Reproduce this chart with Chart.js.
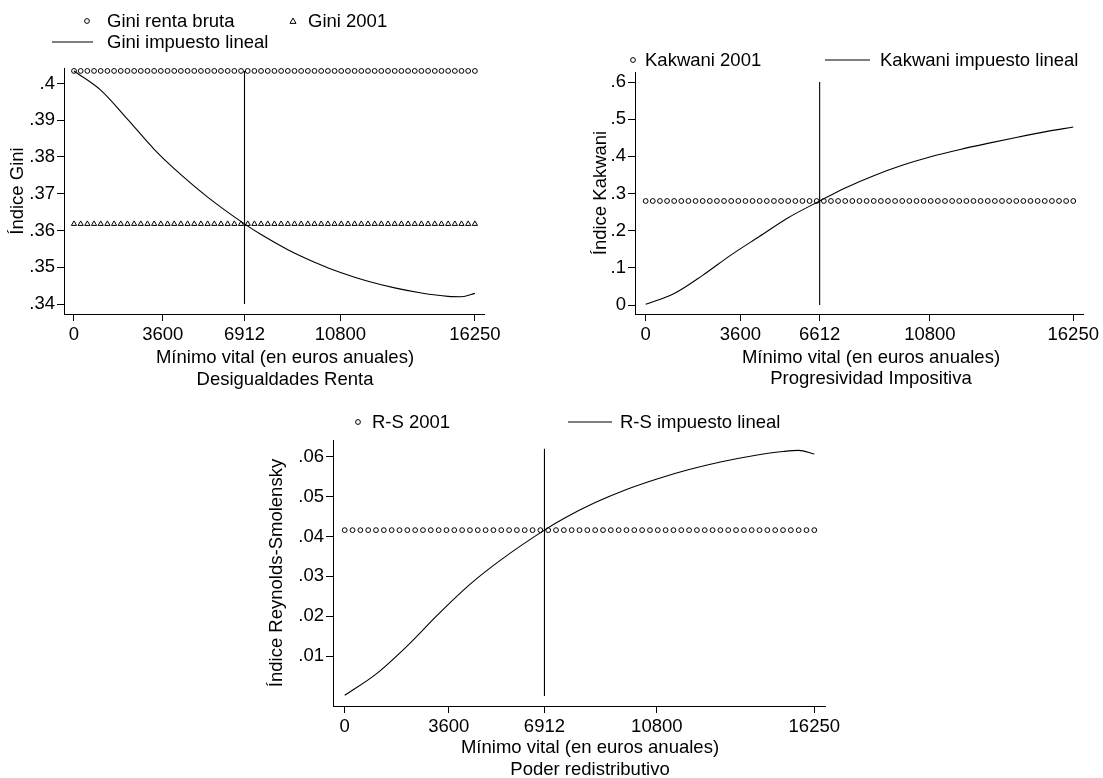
<!DOCTYPE html>
<html><head><meta charset="utf-8">
<script src="https://cdn.jsdelivr.net/npm/chart.js@4/dist/chart.umd.min.js"></script>
<style>
html,body{margin:0;padding:0;background:#fff;}
#wrap{position:relative;width:1103px;height:778px;overflow:hidden;}
canvas{position:absolute;}
</style></head><body>
<div id="wrap">
<canvas id="c1" width="551" height="390" style="left:0;top:0"></canvas>
<canvas id="c2" width="552" height="390" style="left:551px;top:0"></canvas>
<canvas id="c3" width="620" height="388" style="left:240px;top:390px"></canvas>
</div>
<script>
// ---------- DATA ----------
const xTicks1 = [0, 3600, 6912, 10800, 16250];
const xTicks2 = [0, 3600, 6612, 10800, 16250];
const xTicks3 = [0, 3600, 6912, 10800, 16250];
const yTicks1 = [0.34, 0.35, 0.36, 0.37, 0.38, 0.39, 0.40];
const yTicks2 = [0, 0.1, 0.2, 0.3, 0.4, 0.5, 0.6];
const yTicks3 = [0.01, 0.02, 0.03, 0.04, 0.05, 0.06];

// marker positions (minimo vital grid)
const markerX = [0, 271, 542, 813, 1083, 1354, 1625, 1896, 2167, 2438, 2708, 2979, 3250, 3521, 3792, 4063, 4333, 4604, 4875, 5146, 5417, 5688, 5958, 6229, 6500, 6771, 7042, 7313, 7583, 7854, 8125, 8396, 8667, 8938, 9208, 9479, 9750, 10021, 10292, 10563, 10833, 11104, 11375, 11646, 11917, 12188, 12458, 12729, 13000, 13271, 13542, 13813, 14083, 14354, 14625, 14896, 15167, 15438, 15708, 15979, 16250];

// reference levels
const giniRentaBruta = 0.4034;
const gini2001 = 0.3618;
const kakwani2001 = 0.28;
const rs2001 = 0.0416;

// Gini impuesto lineal
const giniX = [0, 1083, 2167, 3250, 4333, 5417, 6912, 7583, 8667, 9750, 10833, 11917, 13000, 14083, 15167, 15708, 16250];
const giniY = [0.4034, 0.3982, 0.3903, 0.3821, 0.3752, 0.3691, 0.3618, 0.3589, 0.3548, 0.3514, 0.3485, 0.3462, 0.3444, 0.3430, 0.3421, 0.3420, 0.3429];

// Kakwani impuesto lineal
const kakX = [0, 1083, 2167, 3250, 4333, 5417, 6612, 7583, 8667, 9750, 10833, 11917, 13000, 14083, 15167, 16250];
const kakY = [0.002, 0.031, 0.080, 0.135, 0.185, 0.235, 0.280, 0.315, 0.348, 0.376, 0.399, 0.418, 0.435, 0.451, 0.466, 0.479];

// R-S impuesto lineal
const rsX = [0, 1083, 2167, 3250, 4333, 5417, 6912, 7583, 8667, 9750, 10833, 11917, 13000, 14083, 15167, 15708, 16250];
const rsY = [0.0002, 0.0055, 0.0126, 0.0206, 0.0280, 0.0342, 0.0416, 0.0445, 0.0485, 0.0518, 0.0545, 0.0568, 0.0587, 0.0602, 0.0613, 0.0616, 0.0607];

// vertical reference lines: [x, yFrom, yTo]
const vline1 = [6912, 0.34, 0.4034];
const vline2 = [6612, 0, 0.6];
const vline3 = [6912, 0, 0.062];

// ---------- STYLE / HELPERS ----------
const FONT = '"Liberation Sans", Arial, sans-serif';
const FS = 18.5;
const INK = '#000';

function fmtY(v) {
  const s = (+v.toFixed(4)).toString();
  return s.replace(/^0\./, '.').replace(/^-0\./, '-.');
}
function pts(xs, ys) { return xs.map((x, i) => ({x: x, y: ys[i]})); }
function flat(xs, level) { return xs.map(x => ({x: x, y: level})); }
function vpts(v) { return [{x: v[0], y: v[1]}, {x: v[0], y: v[2]}]; }

function drawCircle(ctx, x, y) {
  ctx.beginPath(); ctx.arc(x, y, 2.4, 0, Math.PI * 2); ctx.lineWidth = 1; ctx.strokeStyle = INK; ctx.stroke();
}
function drawTri(ctx, x, y) {
  ctx.beginPath(); ctx.moveTo(x, y - 3); ctx.lineTo(x + 3, y + 2.4); ctx.lineTo(x - 3, y + 2.4); ctx.closePath();
  ctx.lineWidth = 1; ctx.strokeStyle = INK; ctx.stroke();
}

function textPlugin(spec, offX, offY) {
  return {
    id: 'texts',
    afterDraw(chart) {
      const ctx = chart.ctx;
      ctx.save();
      ctx.fillStyle = INK;
      ctx.font = FS + 'px ' + FONT;
      ctx.textBaseline = 'middle';
      spec.legend.forEach(it => {
        const y = it.y - offY;
        if (it.key === 'circle') drawCircle(ctx, it.kx - offX, y);
        else if (it.key === 'tri') drawTri(ctx, it.kx - offX, y);
        else if (it.key === 'line') {
          ctx.beginPath(); ctx.moveTo(it.kx - offX, y); ctx.lineTo(it.kx2 - offX, y);
          ctx.lineWidth = 1.1; ctx.strokeStyle = INK; ctx.stroke();
        }
        ctx.textAlign = 'left';
        ctx.fillText(it.text, it.tx - offX, y + 1);
      });
      ctx.textAlign = 'center';
      spec.xTitles.forEach(t => ctx.fillText(t.text, t.x - offX, t.y - offY));
      ctx.translate(spec.yTitle.x - offX, spec.yTitle.y - offY);
      ctx.rotate(-Math.PI / 2);
      ctx.fillText(spec.yTitle.text, 0, 0);
      ctx.restore();
    }
  };
}

function makeChart(id, cfg) {
  const tickFont = {family: FONT, size: FS};
  return new Chart(document.getElementById(id), {
    type: 'scatter',
    data: {datasets: cfg.datasets},
    options: {
      responsive: false, animation: false, devicePixelRatio: 1,
      layout: {padding: {left: 0, top: cfg.padTop, right: cfg.padRight, bottom: 0}},
      plugins: {legend: {display: false}, tooltip: {enabled: false}},
      elements: {line: {borderWidth: 1.1}},
      scales: {
        x: {
          type: 'linear', min: -405, max: 16620,
          afterBuildTicks: s => { s.ticks = cfg.xTicks.map(v => ({value: v})); },
          afterFit: s => { s.height = cfg.xH; },
          ticks: {callback: v => String(v), maxRotation: 0, autoSkip: false, padding: 3, color: INK, font: tickFont},
          grid: {display: true, drawOnChartArea: false, drawTicks: true, tickLength: 7, color: INK, lineWidth: 1},
          border: {display: true, color: INK, width: 1}
        },
        y: {
          type: 'linear', min: cfg.yMin, max: cfg.yMax,
          afterBuildTicks: s => { s.ticks = cfg.yTicks.map(v => ({value: v})); },
          afterFit: s => { s.width = cfg.yW; },
          ticks: {callback: v => fmtY(v), autoSkip: false, padding: 2, color: INK, font: tickFont},
          grid: {display: true, drawOnChartArea: false, drawTicks: true, tickLength: 7, color: INK, lineWidth: 1},
          border: {display: true, color: INK, width: 1}
        }
      }
    },
    plugins: [cfg.plugin]
  });
}

const lineDs = (data) => ({data: data, showLine: true, borderColor: INK, borderWidth: 1.1, pointRadius: 0, cubicInterpolationMode: 'monotone', clip: false});
const vDs = (data) => ({data: data, showLine: true, borderColor: INK, borderWidth: 1.1, pointRadius: 0, clip: false});
const circDs = (data) => ({data: data, showLine: false, pointStyle: 'circle', pointRadius: 2.4, borderWidth: 1, borderColor: INK, backgroundColor: 'rgba(0,0,0,0)', clip: false});
const triDs = (data) => ({data: data, showLine: false, pointStyle: 'triangle', pointRadius: 3, borderWidth: 1, borderColor: INK, backgroundColor: 'rgba(0,0,0,0)', clip: false});

// ---------- CHART 1 ----------
makeChart('c1', {
  xTicks: xTicks1, yTicks: yTicks1, yMin: 0.3373, yMax: 0.4042,
  yW: 64, xH: 76, padTop: 68, padRight: 67,
  datasets: [
    lineDs(pts(giniX, giniY)),
    circDs(flat(markerX, giniRentaBruta)),
    triDs(flat(markerX, gini2001)),
    vDs(vpts(vline1))
  ],
  plugin: textPlugin({
    legend: [
      {key: 'circle', kx: 87, y: 21, tx: 107, text: 'Gini renta bruta'},
      {key: 'tri', kx: 293, y: 21, tx: 308, text: 'Gini 2001'},
      {key: 'line', kx: 52, kx2: 93, y: 42, tx: 107, text: 'Gini impuesto lineal'}
    ],
    xTitles: [
      {text: 'Mínimo vital (en euros anuales)', x: 285, y: 358},
      {text: 'Desigualdades Renta', x: 285, y: 380}
    ],
    yTitle: {text: 'Índice Gini', x: 18, y: 191}
  }, 0, 0)
});

// ---------- CHART 2 ----------
makeChart('c2', {
  xTicks: xTicks2, yTicks: yTicks2, yMin: -0.024, yMax: 0.627,
  yW: 84, xH: 76, padTop: 72, padRight: 20,
  datasets: [
    lineDs(pts(kakX, kakY)),
    circDs(flat(markerX, kakwani2001)),
    vDs(vpts(vline2))
  ],
  plugin: textPlugin({
    legend: [
      {key: 'circle', kx: 633, y: 60, tx: 645, text: 'Kakwani 2001'},
      {key: 'line', kx: 825, kx2: 870, y: 60, tx: 880, text: 'Kakwani impuesto lineal'}
    ],
    xTitles: [
      {text: 'Mínimo vital (en euros anuales)', x: 871, y: 358},
      {text: 'Progresividad Impositiva', x: 871, y: 379}
    ],
    yTitle: {text: 'Índice Kakwani', x: 601, y: 193}
  }, 551, 0)
});

// ---------- CHART 3 ----------
makeChart('c3', {
  xTicks: xTicks3, yTicks: yTicks3, yMin: -0.0025, yMax: 0.0642,
  yW: 93, xH: 72, padTop: 50, padRight: 35,
  datasets: [
    lineDs(pts(rsX, rsY)),
    circDs(flat(markerX, rs2001)),
    vDs(vpts(vline3))
  ],
  plugin: textPlugin({
    legend: [
      {key: 'circle', kx: 358, y: 422, tx: 372, text: 'R-S 2001'},
      {key: 'line', kx: 568, kx2: 612, y: 422, tx: 620, text: 'R-S impuesto lineal'}
    ],
    xTitles: [
      {text: 'Mínimo vital (en euros anuales)', x: 590, y: 748},
      {text: 'Poder redistributivo', x: 590, y: 770}
    ],
    yTitle: {text: 'Índice Reynolds-Smolensky', x: 277, y: 573}
  }, 240, 390)
});
</script>
</body></html>
